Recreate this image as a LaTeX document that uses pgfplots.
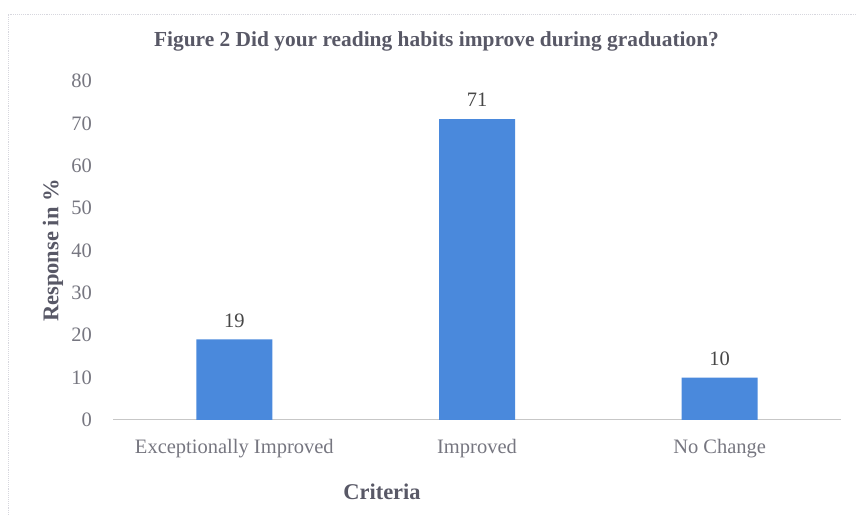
\documentclass[border=0pt]{standalone}
\usepackage{fontspec}
\setmainfont{Liberation Serif}
\usepackage{pgfplots}
\pgfplotsset{compat=1.18}
\definecolor{barblue}{RGB}{74,137,220}
\definecolor{ticktext}{RGB}{118,118,128}
\definecolor{labtext}{RGB}{88,88,102}
\definecolor{frame}{RGB}{215,215,222}
\newcommand\fs{\fontsize{20.5bp}{24bp}\selectfont}
\newcommand\fst{\fontsize{21.4bp}{25bp}\selectfont}
\newcommand\fsl{\fontsize{22.5bp}{26bp}\selectfont}
\begin{document}
\begin{tikzpicture}
\draw[frame, line width=0.9bp, densely dotted] (8bp,0bp) -- (8bp,501bp) -- (857bp,501bp);
\begin{axis}[
  at={(113bp,95bp)}, anchor=south west,
  scale only axis, width=728bp, height=339bp,
  xmin=-0.5, xmax=2.5, ymin=0, ymax=80,
  ytick={0,10,...,80},
  xtick=data,
  xticklabels={Exceptionally Improved,Improved,No Change},
  axis y line*=left,
  axis x line*=bottom,
  y axis line style={draw=none},
  x axis line style={draw=black!22, line width=1bp, -},
  major tick length=0pt,
  /pgf/number format/assume math mode=true,
  ytick style={draw=none}, xtick style={draw=none},
  yticklabel style={font=\fs, text=ticktext, anchor=east, inner sep=0pt, xshift=-21bp},
  xticklabel style={font=\fs, text=ticktext, anchor=base, inner sep=0pt, yshift=-34bp},
  ylabel={Response in \%},
  ylabel style={font=\fsl\bfseries, text=labtext, at={(axis description cs:-0.0824,0.5)}, anchor=center},
  xlabel={Criteria},
  xlabel style={font=\fsl\bfseries, text=labtext, at={(axis description cs:0.3695,-0.2124)}, anchor=center},
  title={Figure 2 Did your reading habits improve during graduation?},
  title style={font=\fst\bfseries, text=labtext, at={(axis description cs:0.4444,1.0855)}, anchor=base, inner sep=0pt},
  ybar, bar width=76bp,
  nodes near coords,
  every node near coord/.append style={font=\fs, text=black!72, anchor=south, inner sep=0pt, yshift=12bp},
  clip=false,
]
\addplot[fill=barblue, draw=none] coordinates {(0,19) (1,71) (2,10)};
\end{axis}
\pgfresetboundingbox
\useasboundingbox (0,0) rectangle (857bp,515bp);
\end{tikzpicture}
\end{document}
